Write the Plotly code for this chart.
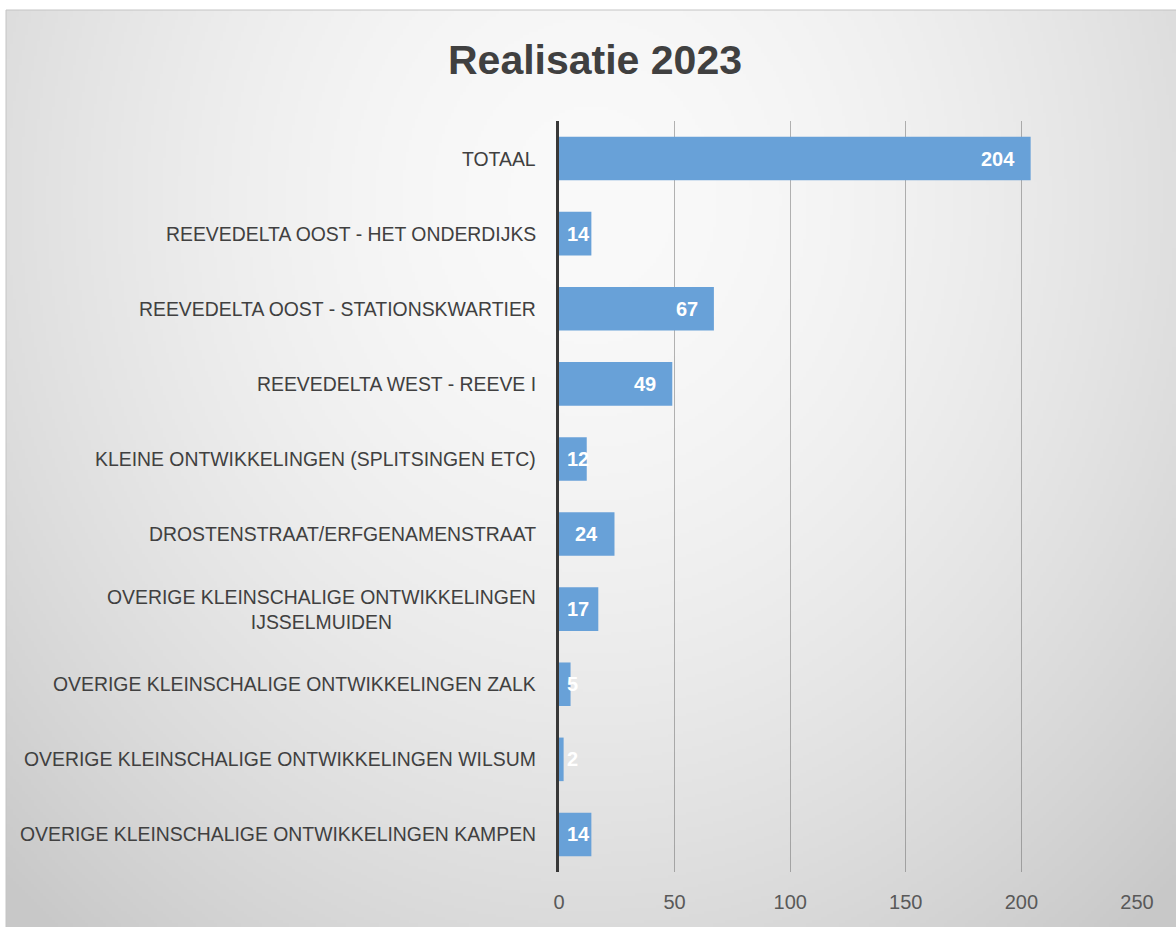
import base64
import struct
import zlib

import numpy as np
import plotly.graph_objects as go

# ---- data -------------------------------------------------------------
categories = [
    "TOTAAL",
    "REEVEDELTA OOST - HET ONDERDIJKS",
    "REEVEDELTA OOST - STATIONSKWARTIER",
    "REEVEDELTA WEST - REEVE I",
    "KLEINE ONTWIKKELINGEN (SPLITSINGEN ETC)",
    "DROSTENSTRAAT/ERFGENAMENSTRAAT",
    "OVERIGE KLEINSCHALIGE ONTWIKKELINGEN<br>IJSSELMUIDEN",
    "OVERIGE KLEINSCHALIGE ONTWIKKELINGEN ZALK",
    "OVERIGE KLEINSCHALIGE ONTWIKKELINGEN WILSUM",
    "OVERIGE KLEINSCHALIGE ONTWIKKELINGEN KAMPEN",
]
values = [204, 14, 67, 49, 12, 24, 17, 5, 2, 14]
x_ticks = [0, 50, 100, 150, 200, 250]
title_text = "Realisatie 2023"

# ---- geometry of the figure -------------------------------------------
W, H = 1176, 927
M_L, M_R, M_T, M_B = 559, 39, 121, 55
PW, PH = W - M_L - M_R, H - M_T - M_B
FONT = "Liberation Sans, Arial, sans-serif"
TEXT_GREY = "#404040"
BAR_BLUE = "#68a1d8"


def px_to_paper_x(px):
    return (px - M_L) / PW


def px_to_paper_y(py):
    return (H - M_B - py) / PH


# ---- soft radial grey background for the chart area -------------------
def _chunk(tag, data):
    return (struct.pack(">I", len(data)) + tag + data
            + struct.pack(">I", zlib.crc32(tag + data) & 0xFFFFFFFF))


def grey_png(arr):
    h, w = arr.shape
    raw = b"".join(b"\x00" + arr[i].tobytes() for i in range(h))
    return (b"\x89PNG\r\n\x1a\n"
            + _chunk(b"IHDR", struct.pack(">IIBBBBB", w, h, 8, 0, 0, 0, 0))
            + _chunk(b"IDAT", zlib.compress(raw, 9))
            + _chunk(b"IEND", b""))


BG_X0, BG_Y0, BG_X1, BG_Y1 = 6, 10, W, H
step = 3
gx = np.arange(BG_X0, BG_X1, step, dtype=float)
gy = np.arange(BG_Y0, BG_Y1, step, dtype=float)
XX, YY = np.meshgrid(gx, gy)
r = np.sqrt(((XX - 590) / 700) ** 2 + ((YY - 200) / 800) ** 2)
shade = 250 - 50 * np.clip(r / 1.2, 0, 1) ** 1.7
bg_uri = "data:image/png;base64," + base64.b64encode(
    grey_png(shade.astype(np.uint8))).decode()

# ---- figure -----------------------------------------------------------
fig = go.Figure(
    go.Bar(
        x=values,
        y=categories,
        orientation="h",
        marker=dict(color=BAR_BLUE, line=dict(width=0)),
        hoverinfo="x+y",
    )
)

# value labels at the inner end of each bar; short bars keep them near the axis
annotations = []
for cat, val in zip(categories, values):
    if val >= 20:
        pos = dict(x=val, xanchor="right", xshift=-14)
    else:
        pos = dict(x=0, xanchor="left", xshift=6)
    annotations.append(dict(
        xref="x", yref="y", y=cat, text=str(val), showarrow=False,
        yanchor="middle",
        font=dict(family=FONT, size=20, color="white", weight="bold"),
        **pos,
    ))

# category labels, multi-line ones centred
for cat in categories:
    annotations.append(dict(
        xref="paper", yref="y", x=0, y=cat, xshift=-21,
        xanchor="right", yanchor="middle", align="center",
        text=cat, showarrow=False,
        font=dict(family=FONT, size=19.4, color=TEXT_GREY),
    ))

fig.update_layout(
    width=W,
    height=H,
    autosize=False,
    margin=dict(l=M_L, r=M_R, t=M_T, b=M_B, pad=0),
    paper_bgcolor="white",
    plot_bgcolor="rgba(0,0,0,0)",
    bargap=0.42,
    showlegend=False,
    title=dict(
        text=title_text,
        x=595 / W, xanchor="center",
        y=1 - 60 / H, yanchor="middle",
        font=dict(family=FONT, size=41, color=TEXT_GREY, weight="bold"),
    ),
    xaxis=dict(
        range=[0, 250],
        tickvals=x_ticks,
        ticktext=[str(t) for t in x_ticks],
        showgrid=True,
        gridcolor="rgba(100,100,100,0.48)",
        gridwidth=1,
        zeroline=False,
        showline=False,
        ticks="outside",
        ticklen=12,
        tickcolor="rgba(0,0,0,0)",
        tickfont=dict(family=FONT, size=20, color="#595959"),
        fixedrange=True,
    ),
    yaxis=dict(
        categoryorder="array",
        categoryarray=categories,
        autorange="reversed",
        showticklabels=False,
        showgrid=False,
        zeroline=False,
        showline=True,
        linecolor="#383838",
        linewidth=3,
        ticks="",
        fixedrange=True,
    ),
    annotations=annotations,
    images=[dict(
        source=bg_uri,
        xref="paper", yref="paper",
        x=px_to_paper_x(BG_X0), y=px_to_paper_y(BG_Y0),
        sizex=(BG_X1 - BG_X0) / PW, sizey=(BG_Y1 - BG_Y0) / PH,
        xanchor="left", yanchor="top",
        sizing="stretch", layer="below",
    )],
    shapes=[dict(
        type="rect", xref="paper", yref="paper",
        x0=px_to_paper_x(BG_X0), x1=px_to_paper_x(BG_X1 + 2),
        y0=px_to_paper_y(BG_Y1 + 2), y1=px_to_paper_y(BG_Y0),
        line=dict(color="#c4c4c4", width=1),
        fillcolor="rgba(0,0,0,0)", layer="below",
    )],
)

fig.write_html("out.html")
